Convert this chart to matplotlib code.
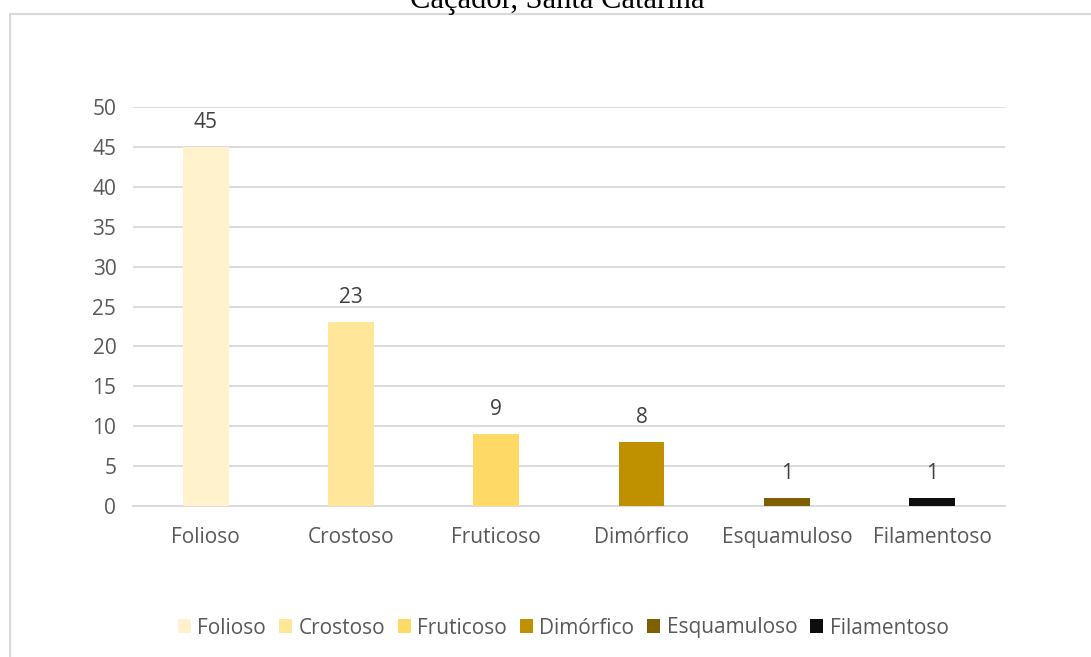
import matplotlib.pyplot as plt
from matplotlib.patches import Rectangle, Patch

# Data
categories = ["Folioso", "Crostoso", "Fruticoso", "Dimórfico", "Esquamuloso", "Filamentoso"]
values = [45, 23, 9, 8, 1, 1]
colors = ["#FFF2CC", "#FFE699", "#FFD966", "#BF9000", "#7F6000", "#0D0D0D"]
yticks = [0, 5, 10, 15, 20, 25, 30, 35, 40, 45, 50]

plt.rcParams['font.family'] = ['Open Sans', 'DejaVu Sans']

fig = plt.figure(figsize=(10.91, 6.57), dpi=100)
ax = fig.add_axes([0.1219, 0.2298, 0.7991, 0.6073])

x = range(len(categories))
ax.bar(x, values, width=0.315, color=colors, zorder=3)
for xi, v in zip(x, values):
    ax.text(xi, v + 3.1, str(v), ha='center', va='center', fontsize=15, color='#404040')

ax.set_xlim(-0.5, len(categories) - 0.5)
ax.set_ylim(0, 50)
ax.set_yticks(yticks)
ax.set_xticks(list(x))
ax.set_xticklabels(categories)
ax.tick_params(axis='both', length=0, labelsize=15, labelcolor='#595959')
ax.tick_params(axis='x', pad=15)
ax.tick_params(axis='y', pad=12)
ax.grid(axis='y', color='#D9D9D9', linewidth=1.3, zorder=0)
for s in ['top', 'right', 'left']:
    ax.spines[s].set_visible(False)
ax.spines['bottom'].set_color('#D9D9D9')
ax.spines['bottom'].set_linewidth(1.3)

# outer chart border (cut off at right and bottom)
fig.patches.append(Rectangle((10 / 1091, -0.05), 1.1, 1 - 14 / 657 + 0.05,
                             transform=fig.transFigure, fill=False,
                             edgecolor='#D9D9D9', linewidth=1.5))

# title, cut off at the top edge like the reference
fig.text(557 / 1091, 1 - 8 / 657, "Caçador, Santa Catarina", ha='center', va='baseline',
         fontsize=22, family='Liberation Serif', color='#000000')

handles = [Patch(facecolor=c, label=l) for c, l in zip(colors, categories)]
fig.legend(handles=handles, loc='center', bbox_to_anchor=(563 / 1091, 1 - 628 / 657), ncol=6,
           frameon=False, fontsize=15, labelcolor='#595959', handlelength=0.65,
           handleheight=0.65, handletextpad=0.3, columnspacing=0.6)

fig.savefig("out.png", dpi=100)
